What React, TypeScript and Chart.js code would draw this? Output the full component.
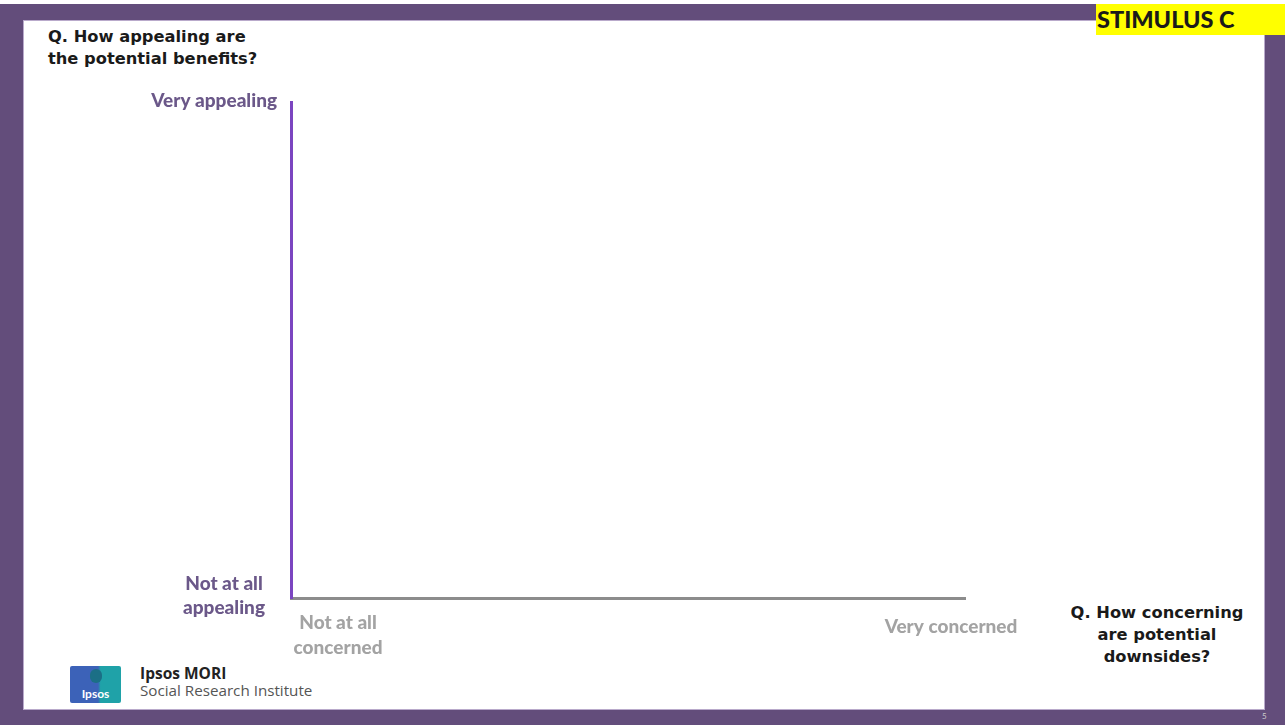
import React, { useEffect, useRef } from "react";
import { Chart, registerables } from "chart.js";

Chart.register(...registerables);

// ---- data ----
const xRange = [0, 10];
const yRange = [0, 10];
const yEndLabels = [["Not at all", "appealing"], ["Very appealing"]];
const xEndLabels = [["Not at all", "concerned"], ["Very concerned"]];
const yQuestion = ["Q. How appealing are", "the potential benefits?"];
const xQuestion = ["Q. How concerning", "are potential", "downsides?"];
const stimulusLabel = "STIMULUS C";
const pointsData: { x: number; y: number }[] = [];

const FRAME = "#634d7b";
const PURPLE_TXT = "#6b5889";
const GRAY_TXT = "#a3a3a3";

const endLabelPlugin = {
  id: "endLabels",
  afterDraw(chart: any) {
    const { ctx } = chart;
    const xs = chart.scales.x;
    const ys = chart.scales.y;
    ctx.save();
    ctx.textBaseline = "middle";
    // y axis end labels
    ctx.font = "900 19px Lato";
    ctx.fillStyle = PURPLE_TXT;
    const yTop = ys.getPixelForValue(yRange[1]);
    const yBot = ys.getPixelForValue(yRange[0]);
    ctx.textAlign = "right";
    ctx.fillText(yEndLabels[1][0], ys.right - 14, yTop - 1);
    ctx.textAlign = "center";
    yEndLabels[0].forEach((t, i) => ctx.fillText(t, ys.right - 67, yBot - 14 + i * 24));
    // x axis end labels
    ctx.fillStyle = GRAY_TXT;
    const xL = xs.getPixelForValue(xRange[0]);
    const xR = xs.getPixelForValue(xRange[1]);
    ctx.textAlign = "center";
    xEndLabels[0].forEach((t, i) => ctx.fillText(t, xL + 47, xs.top + 25 + i * 25));
    ctx.fillText(xEndLabels[1][0], xR - 14, xs.top + 29);
    ctx.restore();
  },
};

function QuadChart() {
  const ref = useRef<HTMLCanvasElement>(null);
  useEffect(() => {
    if (!ref.current) return;
    const chart = new Chart(ref.current, {
      type: "scatter",
      data: { datasets: [{ data: pointsData, backgroundColor: "#7b45c0" }] },
      options: {
        animation: false,
        responsive: false,
        devicePixelRatio: 1,
        layout: { padding: { left: 283, top: 102, right: 320, bottom: 119 } },
        plugins: { legend: { display: false }, tooltip: { enabled: false } },
        scales: {
          x: {
            type: "linear",
            min: xRange[0],
            max: xRange[1],
            grid: { display: false },
            ticks: { display: false },
            border: { color: "#8c8c8c", width: 3 },
          },
          y: {
            type: "linear",
            min: yRange[0],
            max: yRange[1],
            grid: { display: false },
            ticks: { display: false },
            border: { color: "#7b45c0", width: 3 },
          },
        },
      },
      plugins: [endLabelPlugin],
    });
    return () => chart.destroy();
  }, []);
  return (
    <canvas
      ref={ref}
      width={1285}
      height={725}
      style={{ position: "absolute", left: 0, top: 0, width: 1285, height: 725 }}
    />
  );
}

export default function App() {
  const qStyle: React.CSSProperties = {
    position: "absolute",
    fontFamily: "'DejaVu Sans', sans-serif",
    fontWeight: 700,
    fontSize: 16.3,
    lineHeight: "22px",
    color: "#1a1a1a",
    whiteSpace: "nowrap",
  };
  return (
    <div style={{ position: "absolute", left: 0, top: 0, width: 1285, height: 725, overflow: "hidden", background: "#fff" }}>
      <div style={{ position: "absolute", left: 0, top: 4, width: 1285, height: 721, background: FRAME }} />
      <div style={{ position: "absolute", left: 24, top: 21, width: 1240, height: 688, background: "#fff", boxShadow: "0 0 0 1px #b9aacb" }} />
      <div style={{ position: "absolute", left: 1096, top: 4, width: 189, height: 31, background: "#ffff00" }} />
      <div style={{ position: "absolute", left: 1097, top: 4, height: 31, lineHeight: "31px", fontFamily: "Lato", fontWeight: 900, fontSize: 23.5, color: "#1a1a1a" }}>{stimulusLabel}</div>
      <div style={{ ...qStyle, left: 48, top: 26 }}>
        {yQuestion.map((t, i) => <div key={i}>{t}</div>)}
      </div>
      <div style={{ ...qStyle, left: 1157, top: 602, transform: "translateX(-50%)", textAlign: "center" }}>
        {xQuestion.map((t, i) => <div key={i}>{t}</div>)}
      </div>
      {/* logo */}
      <div style={{ position: "absolute", left: 70, top: 666, width: 51, height: 37, background: "linear-gradient(90deg, #3c62b8 0%, #3c62b8 55%, #1fa2a8 60%, #1fa2a8 100%)", borderRadius: 2 }}>
        <div style={{ position: "absolute", left: 20, top: 3, width: 12, height: 14, borderRadius: 6, background: "#1b6f86" }} />
        <div style={{ position: "absolute", left: 0, width: 51, top: 20, textAlign: "center", fontFamily: "Lato", fontWeight: 700, fontSize: 12, color: "#fff" }}>Ipsos</div>
      </div>
      <div style={{ position: "absolute", left: 140, top: 665, fontFamily: "'Open Sans'", fontWeight: 700, fontSize: 15.5, color: "#222", lineHeight: "17px" }}>Ipsos MORI</div>
      <div style={{ position: "absolute", left: 140, top: 681, fontFamily: "'Open Sans'", fontSize: 15.2, color: "#555", lineHeight: "18px" }}>Social Research Institute</div>
      <div style={{ position: "absolute", left: 1262, top: 711, fontFamily: "Lato", fontSize: 8, color: "#ccc" }}>5</div>
      <QuadChart />
    </div>
  );
}
